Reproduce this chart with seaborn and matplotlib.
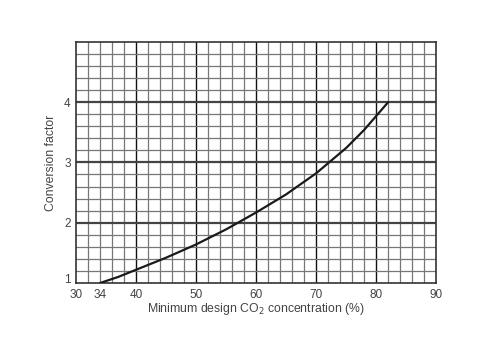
import numpy as np
import pandas as pd
import matplotlib
matplotlib.use("Agg")
import matplotlib.pyplot as plt
import matplotlib.transforms as mtransforms
import seaborn as sns

# CO2 design concentration (%) vs. conversion factor
concentration = [34, 37, 40, 45, 50, 55, 60, 65, 70, 75, 78, 80, 82]
factor = [1.00, 1.10, 1.22, 1.42, 1.64, 1.89, 2.17, 2.47, 2.82, 3.24, 3.54, 3.77, 4.00]
x_ticks = [30, 34, 40, 50, 60, 70, 80, 90]
y_ticks = [1, 2, 3, 4]

sns.set_style("white")
plt.rcParams["font.family"] = ["Liberation Sans", "DejaVu Sans"]

fig = plt.figure(figsize=(4.82, 3.43), dpi=100)
ax = fig.add_axes([0.158, 0.175, 0.747, 0.703])

df = pd.DataFrame({"conc": concentration, "factor": factor})

ax.set_xlim(30, 90)
ax.set_ylim(1, 5)

# graph-paper grid
for xv in np.arange(32, 90, 2):
    if xv % 10 == 0:
        ax.axvline(xv, color="#111111", lw=1.0, zorder=1)
    else:
        ax.axvline(xv, color="#777777", lw=0.9, zorder=1)
for yv in np.arange(1.2, 5.0, 0.2):
    if abs(yv - round(yv)) < 1e-6:
        ax.axhline(yv, color="#444444", lw=1.6, zorder=1)
    else:
        ax.axhline(yv, color="#777777", lw=0.9, zorder=1)

sns.lineplot(data=df, x="conc", y="factor", ax=ax, color="#1a1a1a",
             lw=1.6, zorder=3)

ax.set_xticks(x_ticks)
ax.set_xticklabels([str(v) for v in x_ticks])
ax.set_yticks(y_ticks)
ax.set_yticklabels([str(v) for v in y_ticks])
ax.tick_params(axis="x", length=0, labelsize=8.5, colors="#444444", pad=4)
ax.tick_params(axis="y", length=0, labelsize=8.5, colors="#444444", pad=4)

# lift the lowest y label clear of the x labels
lbl = ax.get_yticklabels()[0]
lbl.set_transform(lbl.get_transform() +
                  mtransforms.ScaledTranslation(0, 3 / 72, fig.dpi_scale_trans))

for s in ax.spines.values():
    s.set_color("#333333")
    s.set_linewidth(1.2)

ax.set_xlabel("Minimum design CO$_2$ concentration (%)", fontsize=8.8,
              color="#444444", labelpad=0)
ax.set_ylabel("Conversion factor", fontsize=8.8, color="#444444", labelpad=5)

fig.savefig("out.png", dpi=100)
